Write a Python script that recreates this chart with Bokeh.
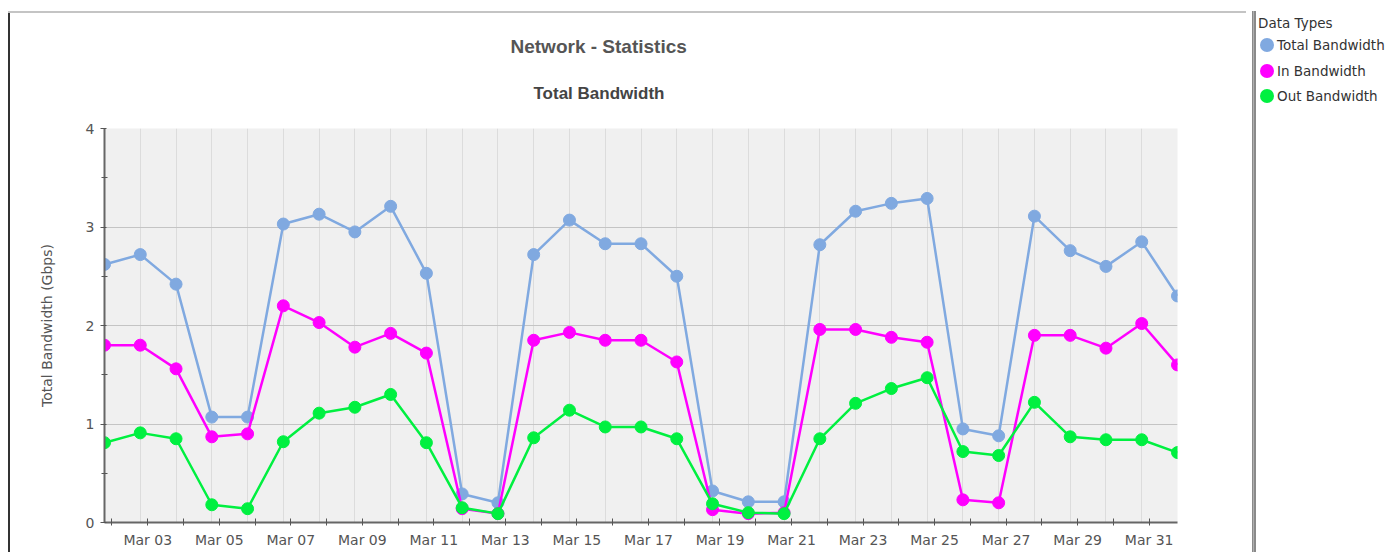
import pandas as pd
from bokeh.plotting import figure
from bokeh.models import (Range1d, FixedTicker, DatetimeTickFormatter, Title,
                          ColumnDataSource, Div)
from bokeh.layouts import row
from bokeh.embed import file_html
from bokeh.resources import INLINE

# ---------------- data ----------------
dates = pd.date_range("2012-03-01 19:00", periods=31, freq="D")
total_bw = [2.62, 2.72, 2.42, 1.07, 1.07, 3.03, 3.13, 2.95, 3.21, 2.53, 0.29,
            0.20, 2.72, 3.07, 2.83, 2.83, 2.50, 0.32, 0.21, 0.21, 2.82, 3.16,
            3.24, 3.29, 0.95, 0.88, 3.11, 2.76, 2.60, 2.85, 2.30]
in_bw = [1.80, 1.80, 1.56, 0.87, 0.90, 2.20, 2.03, 1.78, 1.92, 1.72, 0.14,
         0.09, 1.85, 1.93, 1.85, 1.85, 1.63, 0.13, 0.09, 0.10, 1.96, 1.96,
         1.88, 1.83, 0.23, 0.20, 1.90, 1.90, 1.77, 2.02, 1.60]
out_bw = [0.81, 0.91, 0.85, 0.18, 0.14, 0.82, 1.11, 1.17, 1.30, 0.81, 0.15,
          0.09, 0.86, 1.14, 0.97, 0.97, 0.85, 0.19, 0.10, 0.09, 0.85, 1.21,
          1.36, 1.47, 0.72, 0.68, 1.22, 0.87, 0.84, 0.84, 0.71]
series_names = ["Total Bandwidth", "In Bandwidth", "Out Bandwidth"]
series_colors = ["#80a9e0", "#ff00ff", "#00f040"]
y_ticks = [0, 1, 2, 3, 4]
y_minor = [0.5, 1.5, 2.5, 3.5]
label_days = pd.date_range("2012-03-03", "2012-03-31", freq="2D")
minor_days = pd.date_range("2012-03-02", "2012-03-30", freq="2D")

title_text = "Network - Statistics"
subtitle_text = "Total Bandwidth"
y_label = "Total Bandwidth (Gbps)"
legend_title = "Data Types"

TICK_FONT = "DejaVu Sans"
TITLE_FONT = "Liberation Sans"


def ms(ts):
    return ts.value / 1e6


# ---------------- chart ----------------
p = figure(width=1252, height=552, x_axis_type="datetime",
           x_range=Range1d(ms(dates[0]), ms(dates[-1])),
           y_range=Range1d(0, 4),
           min_border_left=104, min_border_right=75,
           min_border_top=128, min_border_bottom=30,
           toolbar_location=None, output_backend="svg")
p.background_fill_color = "#f0f0f0"
p.border_fill_alpha = 0
p.outline_line_color = None
# chart box lines (top and left edge), drawn behind the transparent canvas
p.styles = {
    "background": (
        "linear-gradient(#c4c4c4,#c4c4c4) 8px 11px / 1238px 2px no-repeat, "
        "linear-gradient(#333333,#333333) 8px 11px / 2px 560px no-repeat, white"
    )
}

src = ColumnDataSource(dict(x=dates, total=total_bw, inb=in_bw, outb=out_bw))
for col, color in zip(["total", "inb", "outb"], series_colors):
    p.line("x", col, source=src, line_color=color, line_width=2.5)
    p.scatter("x", col, source=src, size=12, fill_color=color, line_color=color)

# x axis
p.xaxis.ticker = FixedTicker(ticks=[ms(d) for d in label_days],
                             minor_ticks=[ms(d) for d in minor_days])
p.xaxis.formatter = DatetimeTickFormatter(days="%b %d", months="%b %d",
                                          hours="%b %d")
p.xgrid[0].ticker = FixedTicker(ticks=[ms(d) for d in dates])
p.xgrid.grid_line_color = "#dcdcdc"
p.xgrid.grid_line_width = 1

# y axis
p.yaxis.ticker = FixedTicker(ticks=y_ticks, minor_ticks=y_minor)
p.ygrid.grid_line_color = "#c4c4c4"
p.ygrid.grid_line_width = 1
p.yaxis.axis_label = y_label
p.yaxis.axis_label_text_font = TICK_FONT
p.yaxis.axis_label_text_font_size = "14px"
p.yaxis.axis_label_text_font_style = "normal"
p.yaxis.axis_label_text_color = "#555555"
p.yaxis.axis_label_standoff = 28

for ax in (p.xaxis, p.yaxis):
    ax.axis_line_color = "#666666"
    ax.axis_line_width = 2
    ax.major_tick_line_color = "#555555"
    ax.minor_tick_line_color = "#555555"
    ax.major_label_text_font = TICK_FONT
    ax.major_label_text_font_size = "14px"
    ax.major_label_text_color = "#555555"

p.xaxis.major_tick_in = 4
p.xaxis.major_tick_out = 3
p.xaxis.minor_tick_in = 4
p.xaxis.minor_tick_out = 3
p.xaxis.major_label_standoff = 6
p.yaxis.major_tick_in = 2
p.yaxis.major_tick_out = 4
p.yaxis.minor_tick_in = 3
p.yaxis.minor_tick_out = 3
p.yaxis.major_label_standoff = 6

# titles (main title on top, subtitle nearest the frame)
p.title.text = title_text
p.title.align = "left"
p.title.offset = 406
p.title.standoff = 0
p.title.text_font = TITLE_FONT
p.title.text_font_size = "19px"
p.title.text_font_style = "bold"
p.title.text_color = "#555555"
p.add_layout(Title(text=subtitle_text, align="left", offset=429, standoff=51,
                   text_font=TITLE_FONT, text_font_size="17px",
                   text_font_style="bold", text_color="#444444"), "above")

# ---------------- legend panel (right of the separator) ----------------
font_css = ("font-family:'DejaVu Sans';font-size:13.5px;color:#333333;"
            "line-height:16px;white-space:nowrap;position:absolute;")
parts = [f"<div style=\"{font_css}left:6px;top:15px;\">{legend_title}</div>"]
for i, (name, color) in enumerate(zip(series_names, series_colors)):
    cy = 45 + 25.5 * i
    parts.append(
        f"<div style=\"position:absolute;left:8px;top:{cy - 7}px;width:14px;"
        f"height:14px;border-radius:50%;background:{color};\"></div>")
    parts.append(f"<div style=\"{font_css}left:25px;top:{cy - 8}px;\">{name}</div>")
legend_html = ("<div style=\"position:relative;width:142px;height:552px;\">"
               + "".join(parts) + "</div>")
legend_div = Div(text=legend_html, width=142, height=552, margin=0,
                 styles={"background": (
                     "linear-gradient(to right,#8a8a8a 0,#8a8a8a 1px,#b0b0b0 1px,"
                     "#b0b0b0 2px,#8a8a8a 2px,#8a8a8a 4px) 0px 11px / 4px 560px "
                     "no-repeat, white")})

layout = row(p, legend_div, spacing=0)
open("out.html", "w").write(file_html(layout, INLINE))
